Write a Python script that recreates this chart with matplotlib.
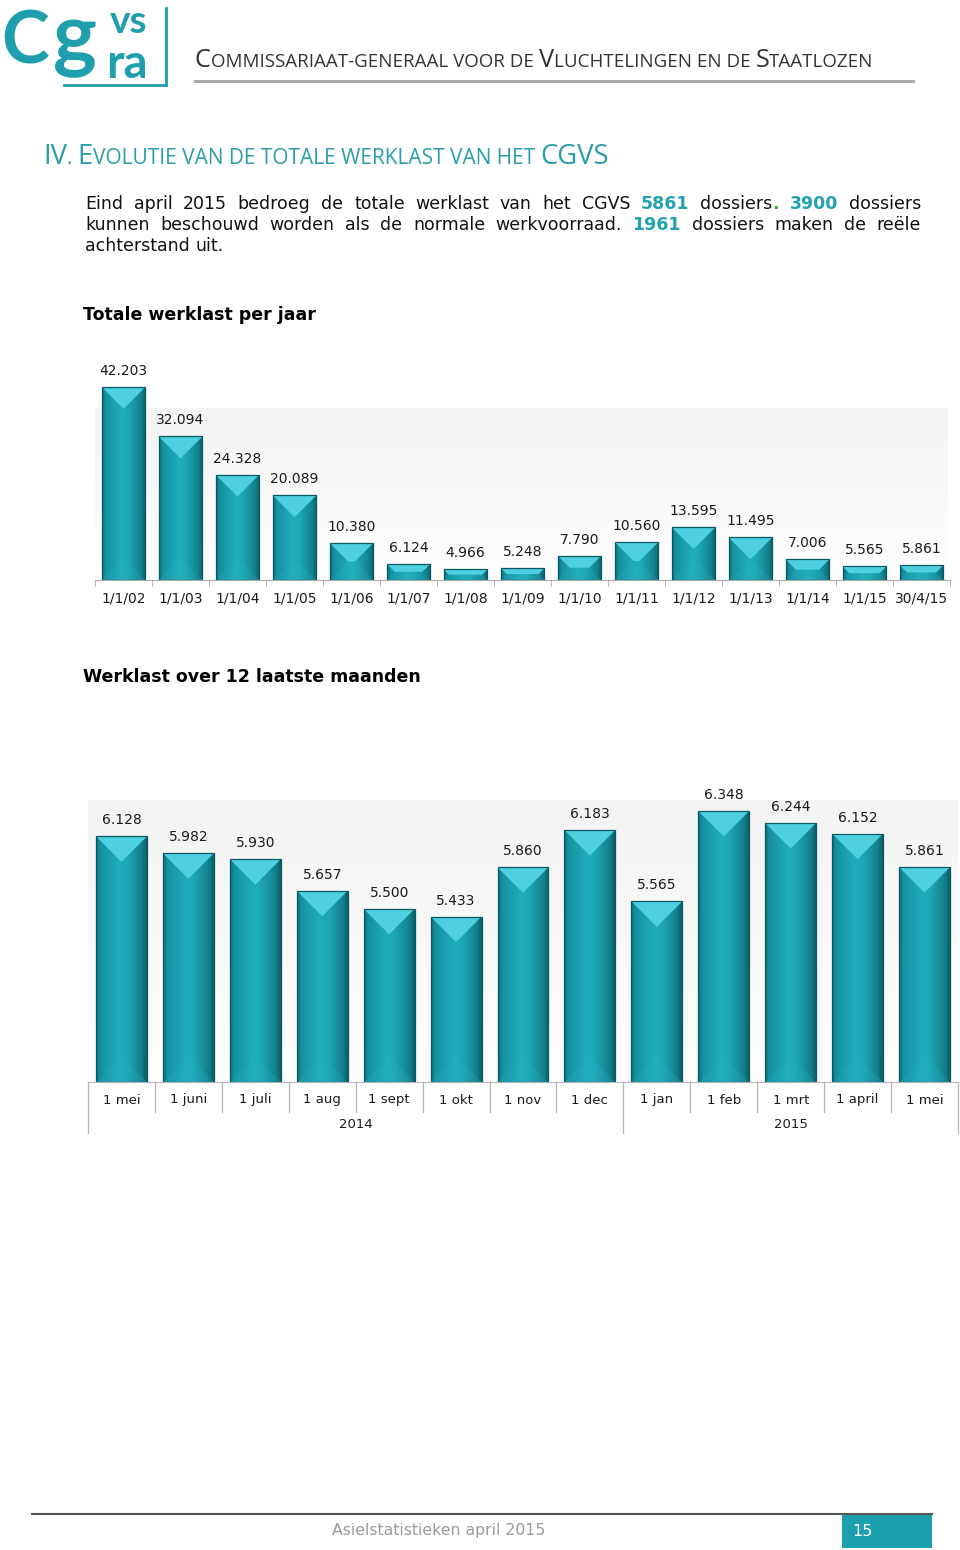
import numpy as np
import matplotlib
matplotlib.use("Agg")
import matplotlib.pyplot as plt
from matplotlib.patches import Rectangle, Polygon
from matplotlib.transforms import Affine2D, blended_transform_factory
from matplotlib.colors import LinearSegmentedColormap
from matplotlib.lines import Line2D
from matplotlib.font_manager import FontProperties

# ---------------- data ----------------
year_labels = ["1/1/02", "1/1/03", "1/1/04", "1/1/05", "1/1/06", "1/1/07", "1/1/08",
               "1/1/09", "1/1/10", "1/1/11", "1/1/12", "1/1/13", "1/1/14", "1/1/15", "30/4/15"]
year_values = [42203, 32094, 24328, 20089, 10380, 6124, 4966, 5248, 7790,
               10560, 13595, 11495, 7006, 5565, 5861]

month_labels = ["1 mei", "1 juni", "1 juli", "1 aug", "1 sept", "1 okt", "1 nov",
                "1 dec", "1 jan", "1 feb", "1 mrt", "1 april", "1 mei"]
month_values = [6128, 5982, 5930, 5657, 5500, 5433, 5860, 6183, 5565, 6348, 6244, 6152, 5861]
month_years = ["2014", "2015"]
month_year_counts = [8, 5]

# ---------------- figure ----------------
W, H = 960, 1550
fig = plt.figure(figsize=(W / 100, H / 100), dpi=100)
fig.patch.set_facecolor("white")
PX = Affine2D().scale(1 / W, -1 / H).translate(0, 1) + fig.transFigure
renderer = fig.canvas.get_renderer()

TEAL = "#1f9fad"
TEAL_TXT = "#2a9ea8"


def fp(family="DejaVu Sans", size=12, weight="normal"):
    return FontProperties(family=family, size=size, weight=weight)


def adv(s, prop):
    w1, _, _ = renderer.get_text_width_height_descent(s + "|", prop, ismath=False)
    w2, _, _ = renderer.get_text_width_height_descent("|", prop, ismath=False)
    return w1 - w2


def put(x, y, s, prop, color, **kw):
    return fig.text(x, y, s, transform=PX, fontproperties=prop, color=color,
                    va=kw.pop("va", "baseline"), ha=kw.pop("ha", "left"), **kw)


def add_axes_px(x0, y0, x1, y1):
    return fig.add_axes([x0 / W, 1 - y1 / H, (x1 - x0) / W, (y1 - y0) / H])


def smallcaps(x0, y, text, target_w, color, family, ratio):
    runs = []
    for ch in text:
        big = ch.isupper()
        c = ch.upper()
        if runs and runs[-1][1] == big:
            runs[-1][0] += c
        else:
            runs.append([c, big])
    base = 20.0
    total = sum(adv(r, fp(family, base if b else base * ratio)) for r, b in runs)
    s = target_w / total * base
    x = x0
    for r, b in runs:
        prop = fp(family, s if b else s * ratio)
        put(x, y, r, prop, color)
        x += adv(r, prop)


def text_line(x0, x1, y, words, justify=True):
    widths = [sum(adv(t, p) for t, p, c in w) for w in words]
    if justify:
        gap = (x1 - x0 - sum(widths)) / (len(words) - 1)
    else:
        gap = adv(" ", words[0][0][1])
    x = x0
    for w, wd in zip(words, widths):
        xx = x
        for t, p, c in w:
            put(xx, y, t, p, c)
            xx += adv(t, p)
        x += wd + gap


# ---------------- logo ----------------
put(1, 63, "C", fp("Lato", 52, "bold"), TEAL)
put(53, 62, "g", fp("Lato", 60, "bold"), TEAL)
put(110, 33, "vs", fp("Lato", 28, "bold"), TEAL)
put(106, 78, "ra", fp("Lato", 34, "bold"), TEAL)
fig.add_artist(Line2D([166, 166], [8, 85], transform=PX, color=TEAL, lw=2))
fig.add_artist(Line2D([64, 166], [85, 85], transform=PX, color=TEAL, lw=2))

# ---------------- header ----------------
smallcaps(195, 67, "Commissariaat-generaal voor de Vluchtelingen en de Staatlozen",
          675, "#333333", "Open Sans", 0.74)
fig.add_artist(Line2D([195, 913], [81, 81], transform=PX, color="#a9a9a9", lw=2.2))

smallcaps(43, 164, "IV. Evolutie van de totale werklast van het CGVS",
          567, TEAL_TXT, "Open Sans", 0.76)

# ---------------- paragraph ----------------
PR = fp("DejaVu Sans", 12.5)
PB = fp("DejaVu Sans", 12.5, "bold")
TXT = "#111111"
NUM = "#22a2b0"
GRN = "#3d9a3d"


def w_(s):
    return [(s, PR, TXT)]


line1 = [w_(s) for s in "Eind april 2015 bedroeg de totale werklast van het CGVS".split()]
line1 += [[("5861", PB, NUM)], [("dossiers", PR, TXT), (".", PB, GRN)],
          [("3900", PB, NUM)], w_("dossiers")]
line2 = [w_(s) for s in "kunnen beschouwd worden als de normale werkvoorraad.".split()]
line2 += [[("1961", PB, NUM)]] + [w_(s) for s in "dossiers maken de reële".split()]
line3 = [w_(s) for s in "achterstand uit.".split()]
text_line(85, 921, 209, line1)
text_line(85, 921, 230, line2)
text_line(85, 921, 251, line3, justify=False)

put(83, 320, "Totale werklast per jaar", fp("DejaVu Sans", 12.5, "bold"), "#000000")
put(83, 682, "Werklast over 12 laatste maanden", fp("DejaVu Sans", 12.5, "bold"), "#000000")

# ---------------- bar helpers ----------------
bar_cmap = LinearSegmentedColormap.from_list(
    "bar", [(0, "#0c6c76"), (0.08, "#1590a0"), (0.45, "#20adbb"),
            (0.6, "#1ea8b6"), (0.9, "#13808c"), (1, "#0a5e67")])
grad = np.linspace(0, 1, 256).reshape(1, -1)


def wall(x0, y0, x1, y1):
    aw = add_axes_px(x0, y0, x1, y1)
    aw.imshow(np.linspace(0, 1, 100).reshape(-1, 1),
              cmap=LinearSegmentedColormap.from_list("w", ["#f4f4f4", "#fefefe"]),
              aspect="auto", extent=(0, 1, 0, 1))
    aw.axis("off")


def bevel_bars(ax, vals, width, ymin, ymax, ax_w_px, ax_h_px, nx):
    ppx = ax_w_px / nx
    ppy = ax_h_px / (ymax - ymin)
    xs = np.arange(len(vals))
    bars = ax.bar(xs, np.array(vals) - ymin, bottom=ymin, width=width,
                  color="#1a9fad", edgecolor="none", zorder=2)
    for b in bars:
        xl, w, yb, h = b.get_x(), b.get_width(), b.get_y(), b.get_height()
        top = yb + h
        im = ax.imshow(grad, extent=(xl, xl + w, yb, top), aspect="auto",
                       cmap=bar_cmap, zorder=2.1)
        im.set_clip_path(b)
        d = min(w * ppx / 2, h * ppy / 2)
        dx, dy = d / ppx, d / ppy
        tp = Polygon([(xl, top), (xl + w, top), (xl + w - dx, top - dy), (xl + dx, top - dy)],
                     closed=True, fc="#4fd0e0", ec="none", zorder=2.2)
        ax.add_patch(tp)
        tp.set_clip_path(b)
        bp = Polygon([(xl, yb), (xl + w, yb), (xl + w - dx, yb + dy), (xl + dx, yb + dy)],
                     closed=True, fc="#2bb4c2", ec="none", alpha=0.22, zorder=2.2)
        ax.add_patch(bp)
        bp.set_clip_path(b)
        ax.add_patch(Rectangle((xl, yb), w, h, fill=False, ec="#0a5962", lw=0.9, zorder=2.3))
    return bars


# ---------------- chart 1 ----------------
C1 = (95, 360, 950, 580)
Y1 = (2800, 47700)
wall(95, 408, 948, 580)
ax1 = add_axes_px(*C1)
ax1.patch.set_visible(False)
n1 = len(year_values)
bevel_bars(ax1, year_values, 0.77, Y1[0], Y1[1], C1[2] - C1[0], C1[3] - C1[1], n1)
for i, v in enumerate(year_values):
    ax1.annotate(f"{v:,}".replace(",", "."), xy=(i, v), xytext=(0, 16),
                 textcoords="offset pixels", ha="center", va="center",
                 fontsize=10, color="#1a1a1a")
ax1.set_xlim(-0.5, n1 - 0.5)
ax1.set_ylim(*Y1)
for s in ["top", "left", "right"]:
    ax1.spines[s].set_visible(False)
ax1.spines["bottom"].set_color("#aaaaaa")
ax1.set_yticks([])
ax1.set_xticks([])
ax1.set_xticks(np.arange(n1 + 1) - 0.5, minor=True)
ax1.tick_params(axis="x", which="minor", length=4, color="#aaaaaa", direction="out")
tr1 = blended_transform_factory(ax1.transData, PX)
for i, lab in enumerate(year_labels):
    ax1.text(i, 598, lab, transform=tr1, ha="center", va="center", fontsize=10, color="#1a1a1a")

# ---------------- chart 2 ----------------
C2 = (88, 780, 958, 1082)
Y2 = (4000, 6617)
wall(88, 800, 958, 1082)
ax2 = add_axes_px(*C2)
ax2.patch.set_visible(False)
n2 = len(month_values)
bevel_bars(ax2, month_values, 0.76, Y2[0], Y2[1], C2[2] - C2[0], C2[3] - C2[1], n2)
for i, v in enumerate(month_values):
    ax2.annotate(f"{v:,}".replace(",", "."), xy=(i, v), xytext=(0, 16),
                 textcoords="offset pixels", ha="center", va="center",
                 fontsize=10, color="#1a1a1a")
for s in ["top", "left", "right"]:
    ax2.spines[s].set_visible(False)
ax2.spines["bottom"].set_color("#b5b5b5")
ax2.set_yticks([])
ax2.set_xticks([])
tr2 = blended_transform_factory(ax2.transData, PX)
for i, lab in enumerate(month_labels):
    ax2.text(i, 1100, lab, transform=tr2, ha="center", va="center", fontsize=9.5, color="#1a1a1a")
group_edges = np.concatenate([[0], np.cumsum(month_year_counts)]) - 0.5
for k in range(n2 + 1):
    xb = k - 0.5
    y_end = 1133 if np.any(np.isclose(group_edges, xb)) else 1112
    ax2.add_line(Line2D([xb, xb], [1082, y_end], transform=tr2, color="#b5b5b5",
                        lw=0.9, clip_on=False))
start = 0
for yr, cnt in zip(month_years, month_year_counts):
    ax2.text(start + (cnt - 1) / 2, 1125, yr, transform=tr2, ha="center", va="center",
             fontsize=9.5, color="#1a1a1a")
    start += cnt
ax2.set_xlim(-0.5, n2 - 0.5)
ax2.set_ylim(*Y2)

# ---------------- footer ----------------
fig.add_artist(Line2D([32, 932], [1514, 1514], transform=PX, color="#555555", lw=1.5))
put(332, 1531, "Asielstatistieken april 2015", fp("DejaVu Sans", 11.3), "#9a9a9a", va="center")
fig.add_artist(Rectangle((842, 1514), 90, 34, transform=PX, fc="#1ca0ad", ec="none"))
put(852, 1531, "15", fp("DejaVu Sans", 11.5), "white", va="center")

fig.savefig("out.png", dpi=100, facecolor="white")
